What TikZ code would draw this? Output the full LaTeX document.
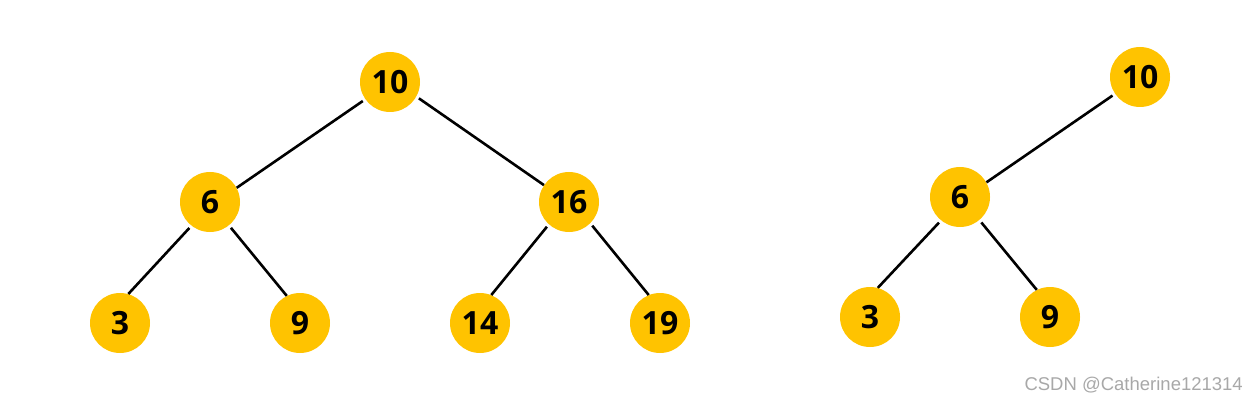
\documentclass[tikz,border=0pt]{standalone}
\usepackage{fontspec}
\setmainfont{Open Sans}
\newfontfamily\wmfont{Liberation Sans}
\definecolor{nodeyellow}{HTML}{FFC300}
\definecolor{wmgray}{HTML}{A8A8A8}
\begin{document}
\begin{tikzpicture}[x=1pt,y=1pt,
  treenode/.style={circle,fill=nodeyellow,minimum size=60pt,inner sep=0pt,font=\fontsize{32}{32}\selectfont\bfseries},
  edge/.style={line width=2.6pt,black,shorten <=3pt}]
\useasboundingbox (0,0) rectangle (1260,402);
% left tree
\node[treenode] (a10) at (390,320) {10};
\node[treenode] (a6) at (210,200) {6};
\node[treenode] (a16) at (569,200) {16};
\node[treenode] (a3) at (120,79) {3};
\node[treenode] (a9) at (300,79) {9};
\node[treenode] (a14) at (480,79) {14};
\node[treenode] (a19) at (660,79) {19};
\draw[edge] (a10.215) -- (a6.28);
\draw[edge] (a10.331) -- (a16.146);
\draw[edge] (a6.232) -- (a3.74);
\draw[edge] (a6.309) -- (a9.116);
\draw[edge] (a16.228) -- (a14.68);
\draw[edge] (a16.315) -- (a19.112);
% right tree
\node[treenode] (b10) at (1140,325) {10};
\node[treenode] (b6) at (960,205) {6};
\node[treenode] (b3) at (870,85) {3};
\node[treenode] (b9) at (1050,85) {9};
\draw[edge] (b10.214) -- (b6.29);
\draw[edge] (b6.231) -- (b3.75);
\draw[edge] (b6.310) -- (b9.116);
% watermark
\node[anchor=east,text=wmgray,font=\wmfont\fontsize{18.5}{18.5}\selectfont,inner sep=0pt] (wm) at (1243,17) {CSDN @Catherine121314};
\end{tikzpicture}
\end{document}
